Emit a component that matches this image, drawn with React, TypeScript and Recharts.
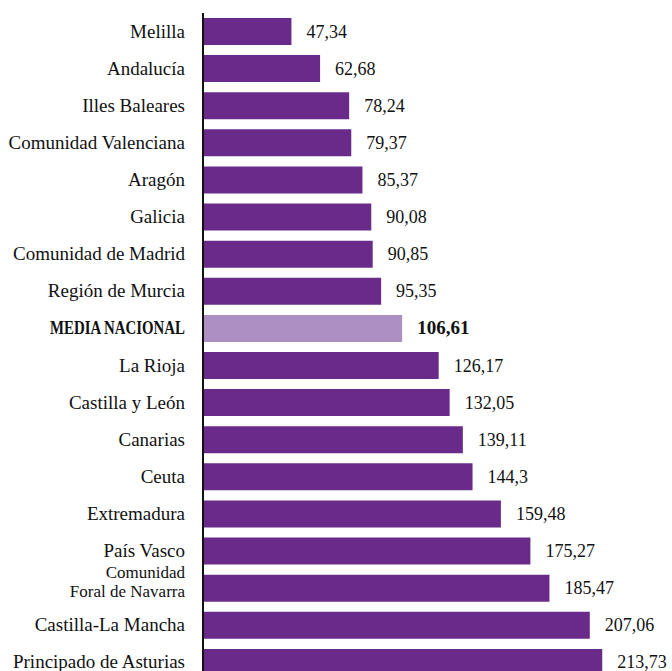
import React from 'react';
import { BarChart, Bar, XAxis, YAxis, Cell, LabelList } from 'recharts';

const categories = [
  'Melilla',
  'Andalucía',
  'Illes Baleares',
  'Comunidad Valenciana',
  'Aragón',
  'Galicia',
  'Comunidad de Madrid',
  'Región de Murcia',
  'MEDIA NACIONAL',
  'La Rioja',
  'Castilla y León',
  'Canarias',
  'Ceuta',
  'Extremadura',
  'País Vasco',
  'Comunidad\nForal de Navarra',
  'Castilla-La Mancha',
  'Principado de Asturias',
];

const values = [
  47.34, 62.68, 78.24, 79.37, 85.37, 90.08, 90.85, 95.35, 106.61,
  126.17, 132.05, 139.11, 144.3, 159.48, 175.27, 185.47, 207.06, 213.73,
];

const highlight = 'MEDIA NACIONAL';

const data = categories.map((name, i) => ({ name, value: values[i] }));

const FONT = '"Liberation Serif", "Times New Roman", serif';
const PURPLE = '#6a2a8a';
const LIGHT = '#ad8fc4';

const fmt = (v: number) => String(v).replace('.', ',');

function CategoryTick({ x, y, payload }: any) {
  const name: string = payload.value;
  if (name === highlight) {
    return (
      <text
        x={x}
        y={y}
        dy={6}
        textAnchor="end"
        fontFamily={FONT}
        fontSize={18}
        fontWeight="bold"
        fill="#111"
        textLength={135}
        lengthAdjust="spacingAndGlyphs"
      >
        {name}
      </text>
    );
  }
  const lines = name.split('\n');
  if (lines.length > 1) {
    return (
      <text textAnchor="end" fontFamily={FONT} fontSize={17} fill="#111">
        <tspan x={x} y={y - 10}>{lines[0]}</tspan>
        <tspan x={x} y={y + 9}>{lines[1]}</tspan>
      </text>
    );
  }
  return (
    <text x={x} y={y} dy={6} textAnchor="end" fontFamily={FONT} fontSize={19} fill="#111">
      {name}
    </text>
  );
}

function ValueLabel(props: any) {
  const { x, y, width, height, value, index } = props;
  const bold = categories[index] === highlight;
  return (
    <text
      x={x + width + 15}
      y={y + height / 2}
      dy={6}
      fontFamily={FONT}
      fontSize={bold ? 19 : 18}
      fontWeight={bold ? 'bold' : 'normal'}
      fill="#111"
    >
      {fmt(value)}
    </text>
  );
}

export default function App() {
  return (
    <div style={{ position: 'absolute', left: 0, top: 0, width: 672, height: 671, overflow: 'hidden', background: '#fff' }}>
      <BarChart
        width={672}
        height={681}
        data={data}
        layout="vertical"
        margin={{ top: 13, right: 2, bottom: 0, left: 0 }}
        barCategoryGap={0}
      >
        <XAxis type="number" domain={[0, 250]} hide />
        <YAxis
          type="category"
          dataKey="name"
          width={203}
          interval={0}
          tickLine={false}
          tickSize={0}
          tickMargin={18}
          axisLine={{ stroke: '#111', strokeWidth: 2 }}
          tick={<CategoryTick />}
        />
        <Bar dataKey="value" barSize={27} isAnimationActive={false}>
          {data.map((d) => (
            <Cell key={d.name} fill={d.name === highlight ? LIGHT : PURPLE} />
          ))}
          <LabelList dataKey="value" content={<ValueLabel />} />
        </Bar>
      </BarChart>
    </div>
  );
}
